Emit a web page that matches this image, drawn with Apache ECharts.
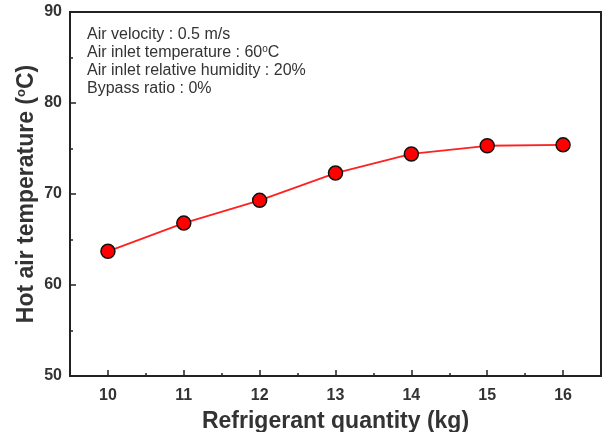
<!DOCTYPE html>
<html>
<head>
<meta charset="utf-8">
<style>
  html, body { margin: 0; padding: 0; background: #fff; }
  #chart { width: 610px; height: 432px; }
</style>
<script src="https://cdn.jsdelivr.net/npm/echarts@6/dist/echarts.min.js"></script>
</head>
<body>
<div id="chart"></div>
<script>
// 制冷剂充注量 vs 热风温度
const refrigerant = [10, 11, 12, 13, 14, 15, 16];
const hotAirTemp = [63.7, 66.8, 69.3, 72.3, 74.4, 75.3, 75.4];
const xHalfTicks = [10.5, 11.5, 12.5, 13.5, 14.5, 15.5];
const notes = [
    'Air velocity : 0.5 m/s',
    'Air inlet temperature : 60{sup|o}C',
    'Air inlet relative humidity : 20%',
    'Bypass ratio : 0%'
];

const chart = echarts.init(document.getElementById('chart'));
const font = 'Liberation Sans, Arial, sans-serif';
const ink = '#222';

const option = {
    animation: false,
    grid: {
        left: 70,
        right: 9,
        top: 12,
        bottom: 56,
        containLabel: false,
        outerBoundsMode: 'none',
        show: true,
        borderColor: ink,
        borderWidth: 2
    },
    xAxis: [
        {
            type: 'value',
            min: 9.5,
            max: 16.5,
            name: 'Refrigerant quantity (kg)',
            nameLocation: 'middle',
            nameGap: 34,
            nameMoveOverlap: false,
            nameTextStyle: { fontFamily: font, fontSize: 23, fontWeight: 'bold', color: '#333' },
            axisLine: { lineStyle: { color: ink, width: 2 } },
            axisTick: { inside: true, length: 6, customValues: refrigerant, lineStyle: { color: ink, width: 1.5 } },
            splitLine: { show: false },
            axisLabel: {
                margin: 12,
                customValues: refrigerant,
                fontFamily: font,
                fontSize: 16,
                fontWeight: 'bold',
                color: '#333'
            }
        },
        {
            // 半格短刻度
            type: 'value',
            position: 'bottom',
            min: 9.5,
            max: 16.5,
            axisLine: { show: false },
            axisTick: { inside: true, length: 3, customValues: xHalfTicks, lineStyle: { color: ink, width: 1.5 } },
            axisLabel: { show: false },
            splitLine: { show: false }
        }
    ],
    yAxis: {
        type: 'value',
        min: 50,
        max: 90,
        interval: 10,
        name: 'Hot air temperature ({sup|o}C)',
        nameLocation: 'middle',
        nameGap: 31,
        nameMoveOverlap: false,
        nameTextStyle: {
            fontFamily: font, fontSize: 23, fontWeight: 'bold', color: '#333',
            rich: {
                sup: { fontFamily: font, fontSize: 13, fontWeight: 'bold', color: '#333', verticalAlign: 'top', padding: [0, 0, 11, 0] }
            }
        },
        axisLine: { lineStyle: { color: ink, width: 2 } },
        axisTick: { inside: true, length: 6, lineStyle: { color: ink, width: 1.5 } },
        minorTick: { show: true, splitNumber: 2, length: 3, lineStyle: { color: ink, width: 1.5 } },
        splitLine: { show: false },
        axisLabel: {
            margin: 8,
            fontFamily: font,
            fontSize: 16,
            fontWeight: 'bold',
            color: '#333'
        }
    },
    series: [
        {
            type: 'line',
            data: refrigerant.map((x, i) => [x, hotAirTemp[i]]),
            symbol: 'circle',
            symbolSize: 14,
            lineStyle: { color: '#ff2020', width: 1.8 },
            itemStyle: { color: '#ff0000', borderColor: '#111', borderWidth: 1.5 }
        }
    ],
    graphic: [
        {
            type: 'text',
            left: 87,
            top: 26,
            style: {
                text: notes.join('\n'),
                fontFamily: font,
                fontSize: 16,
                lineHeight: 18,
                fill: '#333',
                rich: {
                    sup: { fontFamily: font, fontSize: 10, fill: '#333', verticalAlign: 'top', padding: [0, 0, 7, 0] }
                }
            }
        }
    ]
};
chart.setOption(option);
</script>
</body>
</html>
